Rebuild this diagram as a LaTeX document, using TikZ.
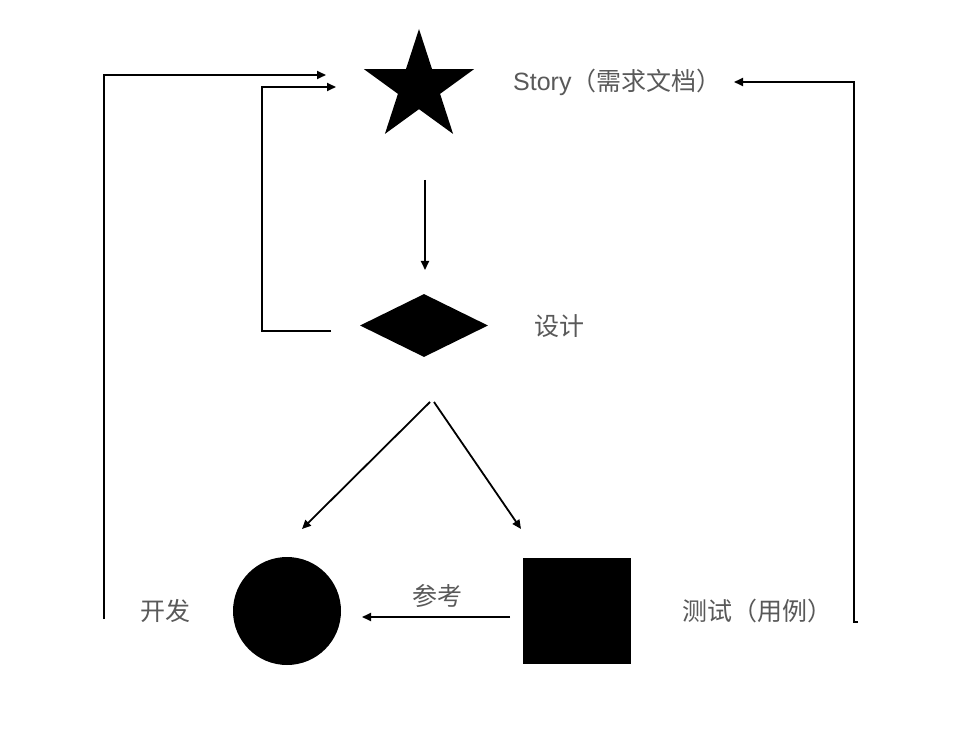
\documentclass[tikz,border=0pt]{standalone}
\usepackage{fontspec}
\setmainfont{Noto Sans CJK SC}
\newfontfamily\latinsans{Liberation Sans}
\usetikzlibrary{shapes.geometric,arrows.meta}
\definecolor{txt}{HTML}{595959}
\begin{document}
\begin{tikzpicture}[x=1pt,y=-1pt,
  conn/.style={line width=1.8pt,-{Triangle[length=9pt,width=8pt]}},
  lbl/.style={text=txt,font=\fontsize{25}{30}\selectfont,inner sep=0pt},
  shp/.style={fill=black,draw=none,inner sep=0pt}]
\fill[white] (0,0) rectangle (956,746);
\useasboundingbox (0,0) rectangle (956,746);
% shapes
\node[shp,star,star points=5,star point ratio=2.618,minimum size=116pt] (story) at (419,87) {};
\node[shp,diamond,minimum width=128pt,minimum height=63pt] (design) at (424,325.5) {};
\node[shp,circle,minimum size=108pt] (dev) at (287,611) {};
\node[shp,rectangle,minimum width=108pt,minimum height=106pt] (test) at (577,611) {};
% labels
\node[lbl,anchor=west] (tstory) at (513,82) {{\latinsans Story}（需求文档）};
\node[lbl,anchor=west] (tdesign) at (534,326) {设计};
\node[lbl,anchor=west] (tdev) at (140,611) {开发};
\node[lbl,anchor=west] (ttest) at (682,611) {测试（用例）};
\node[lbl] (tref) at (437,596) {参考};
% connector endpoints
\coordinate (s1) at (425,180);
\coordinate (d1) at (425,270);
\coordinate (d2) at (430,402);
\coordinate (d3) at (434,402);
\coordinate (c1) at (302,529);
\coordinate (q1) at (521,529);
\coordinate (q2) at (510,617);
\coordinate (c2) at (362,617);
\coordinate (lo1) at (104,619);
\coordinate (lo2) at (326,75);
\coordinate (li1) at (331,331);
\coordinate (li2) at (262,331);
\coordinate (li3) at (336,87);
\coordinate (r0) at (858,622);
\coordinate (r1) at (854,622);
\coordinate (r2) at (734,82);
% connectors
\draw[conn] (s1) -- (d1);
\draw[conn] (d2) -- (c1);
\draw[conn] (d3) -- (q1);
\draw[conn] (q2) -- (c2);
\draw[conn] (lo1) |- (lo2);
\draw[conn] (li1) -- (li2) |- (li3);
\draw[conn] (r0) -- (r1) |- (r2);
\end{tikzpicture}
\end{document}
